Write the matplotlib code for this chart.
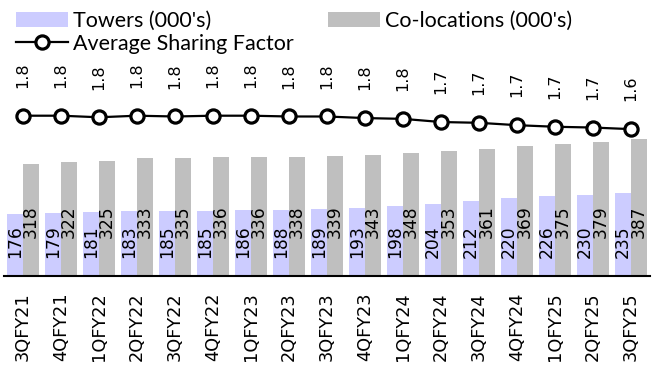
import matplotlib
matplotlib.use("Agg")
import matplotlib.pyplot as plt
from matplotlib.patches import Patch
from matplotlib.lines import Line2D
import numpy as np

quarters = ["3QFY21", "4QFY21", "1QFY22", "2QFY22", "3QFY22", "4QFY22", "1QFY23",
            "2QFY23", "3QFY23", "4QFY23", "1QFY24", "2QFY24", "3QFY24", "4QFY24",
            "1QFY25", "2QFY25", "3QFY25"]
towers = [176, 179, 181, 183, 185, 185, 186, 188, 189, 193, 198, 204, 212, 220, 226, 230, 235]
colocations = [318, 322, 325, 333, 335, 336, 336, 338, 339, 343, 348, 353, 361, 369, 375, 379, 387]
sharing_factor = [1.81, 1.81, 1.79, 1.81, 1.80, 1.81, 1.81, 1.80, 1.80, 1.78, 1.77,
                  1.73, 1.72, 1.69, 1.67, 1.66, 1.64]

TOWER_COLOR = "#CCCCFF"
COLO_COLOR = "#BFBFBF"

W, H = 653, 376
fig = plt.figure(figsize=(W / 100, H / 100), dpi=100)

left_px, right_px = 4, 650
bottom_px, top_px = 275.7, 60
ax = fig.add_axes([left_px / W, (H - bottom_px) / H,
                   (right_px - left_px) / W, (bottom_px - top_px) / H])

x = np.arange(len(quarters))
bw = 0.41
ax.bar(x - bw / 2, towers, width=bw, color=TOWER_COLOR, zorder=2)
ax.bar(x + bw / 2, colocations, width=bw, color=COLO_COLOR, zorder=2)

ax.set_xlim(-0.5, len(quarters) - 0.5)
ax.set_ylim(0, (bottom_px - top_px) / 0.352)
for s in ["top", "left", "right"]:
    ax.spines[s].set_visible(False)
ax.spines["bottom"].set_linewidth(1.5)
ax.set_yticks([])
ax.set_xticks(x)
ax.set_xticklabels(quarters, rotation=90, fontsize=12.8, family="DejaVu Sans")
ax.tick_params(axis="x", length=0, pad=12)

# value labels sitting near the bar bases
for xi, t, c in zip(x, towers, colocations):
    ax.annotate(f"{t}", (xi - bw / 2, 0), xytext=(0, 12.5), textcoords="offset points",
                rotation=90, ha="center", va="bottom", fontsize=12.3, zorder=5)
    ax.annotate(f"{c}", (xi + bw / 2, 0), xytext=(0, 27.5), textcoords="offset points",
                rotation=90, ha="center", va="bottom", fontsize=12.3, zorder=5)

# sharing factor on a secondary scale
ax2 = ax.twinx()
px_per_unit = 79.0
lo = 1.81 - (bottom_px - 115.7) / px_per_unit
ax2.set_ylim(lo, lo + (bottom_px - top_px) / px_per_unit)
ax2.set_yticks([])
for s in ["top", "left", "right", "bottom"]:
    ax2.spines[s].set_visible(False)
ax2.plot(x, sharing_factor, color="black", lw=1.6, marker="o", markersize=9.5,
         markerfacecolor="white", markeredgecolor="black", markeredgewidth=2.3, zorder=4)
for xi, v in zip(x, sharing_factor):
    ax2.annotate(f"{v:.1f}", (xi, v), xytext=(0, 20), textcoords="offset points",
                 rotation=90, ha="center", va="bottom", fontsize=11.5)

# legend
leg_font = {"family": "Lato", "size": 15.5}
h_t = Patch(facecolor=TOWER_COLOR, edgecolor="none")
h_c = Patch(facecolor=COLO_COLOR, edgecolor="none")
h_l = Line2D([], [], color="black", lw=1.6, marker="o", markersize=9.5,
             markerfacecolor="white", markeredgecolor="black", markeredgewidth=2.3)
fs = leg_font["size"]
common = dict(frameon=False, prop=leg_font, handlelength=37.4 / fs, handleheight=0.65,
              handletextpad=3.6 / fs, borderpad=0, borderaxespad=0, labelspacing=0.12)
fig.legend([h_t, h_l], ["Towers (000's)", "Average Sharing Factor"], loc="upper left",
           bbox_to_anchor=(16 / W, 1 - 11 / H), **common)
fig.legend([h_c], ["Co-locations (000's)"], loc="upper left",
           bbox_to_anchor=(328 / W, 1 - 11 / H), **common)

fig.savefig("out.png", dpi=100)
